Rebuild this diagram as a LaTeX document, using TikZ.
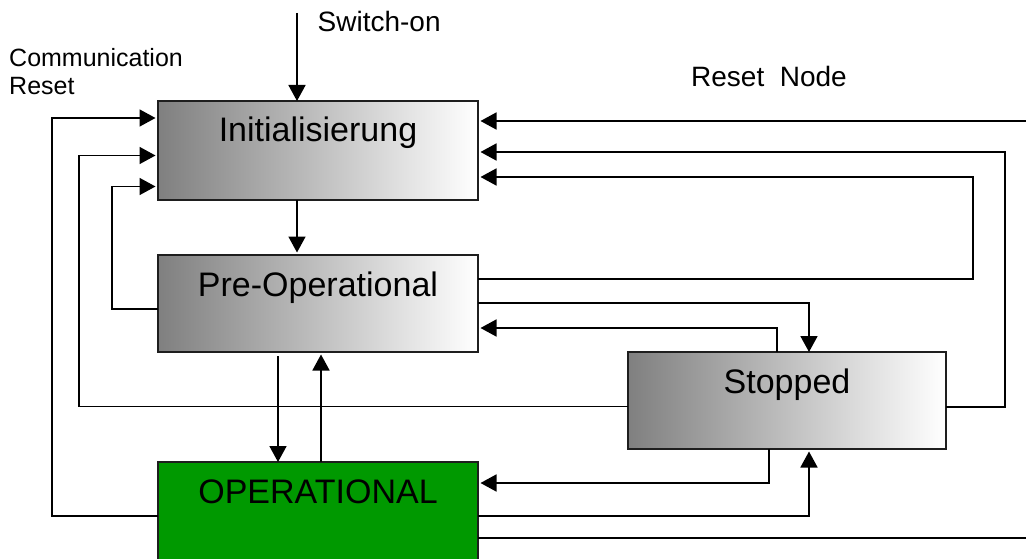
\documentclass[tikz,border=0pt]{standalone}
\usepackage{fontspec}
\setmainfont{Liberation Sans}
\usetikzlibrary{arrows.meta}
\definecolor{opgreen}{RGB}{0,153,0}
\definecolor{boxline}{RGB}{30,30,30}
\begin{document}
\begin{tikzpicture}[x=1pt,y=-1pt,
  conn/.style={line width=1.7pt, draw=black},
  arr/.style={conn, -{Triangle[length=16pt,width=17pt]}},
  gap/.style={shorten >=2.5pt},
  state/.style={rectangle, draw=boxline, line width=1.7pt, minimum width=320pt, inner sep=0pt, outer sep=0pt},
  grey/.style={state, left color=black!50, right color=white},
  stxt/.style={font=\fontsize{34}{40}\selectfont, anchor=base, inner sep=0pt},
  lbl/.style={anchor=base west, inner sep=0pt}
]
\useasboundingbox (0,0) rectangle (1026,559);
\fill[white] (0,0) rectangle (1026,559);

% states
\node[grey, minimum height=99pt] (init) at (318,150.5) {};
\node[grey, minimum height=97pt] (pre) at (318,303.5) {};
\node[grey, minimum width=318pt, minimum height=97pt] (stop) at (787,400.5) {};
\node[state, fill=opgreen, minimum height=100pt] (op) at (318,512) {};

\node[stxt] (tinit) at ([yshift=-41pt]init.north) {Initialisierung};
\node[stxt] (tpre) at ([yshift=-41pt]pre.north) {Pre-Operational};
\node[stxt] (tstop) at ([yshift=-41pt]stop.north) {Stopped};
\node[stxt] (top) at ([yshift=-41pt]op.north) {OPERATIONAL};

% labels
\node[lbl, font=\fontsize{28}{32}\selectfont] (lsw) at (317.5,32) {Switch-on};
\node[lbl, font=\fontsize{25}{28}\selectfont] (lcomm) at (9,67) {Communication};
\node[lbl, font=\fontsize{25}{28}\selectfont] (lres) at (9,95) {Reset};
\node[lbl, font=\fontsize{28}{32}\selectfont] (lrn) at (691,87) {Reset\ \ Node};

% coordinates
\coordinate (son) at (297,13);
\coordinate (ca) at (52,516);   \coordinate (cb) at (52,118);
\coordinate (sa) at (79,406.5); \coordinate (sb) at (79,155.5);
\coordinate (pa) at (112,309);  \coordinate (pb) at (112,186.5);
\coordinate (rn) at (1026,121);
\coordinate (ra) at (1005,407); \coordinate (rb) at (1005,152);
\coordinate (qa) at (973,279);  \coordinate (qb) at (973,177);
\coordinate (pd) at (809,303);
\coordinate (ps) at (777,328);
\coordinate (dd) at (278,356);
\coordinate (du) at (321,462);
\coordinate (sd) at (769,483);
\coordinate (su) at (809,516);
\coordinate (rm) at (1026,538);

% connectors
\draw[arr] (son) -- (son |- init.north);
\draw[arr, gap] (son |- init.south) -- (son |- pre.north);

\draw[arr, gap] (op.west |- ca) -- (ca) -- (cb) -- (init.west |- cb);
\draw[arr, gap] (stop.west |- sa) -- (sa) -- (sb) -- (init.west |- sb);
\draw[arr, gap] (pre.west |- pa) -- (pa) -- (pb) -- (init.west |- pb);

\draw[arr, gap] (rn) -- (init.east |- rn);
\draw[arr, gap] (stop.east |- ra) -- (ra) -- (rb) -- (init.east |- rb);
\draw[arr, gap] (pre.east |- qa) -- (qa) -- (qb) -- (init.east |- qb);

\draw[arr] (pre.east |- pd) -- (pd) -- (pd |- stop.north);
\draw[arr, gap] (ps |- stop.north) -- (ps) -- (pre.east |- ps);

\draw[arr] (dd) -- (dd |- op.north);
\draw[arr, gap] (du) -- (du |- pre.south);

\draw[arr, gap] (sd |- stop.south) -- (sd) -- (op.east |- sd);
\draw[arr, gap] (op.east |- su) -- (su) -- (su |- stop.south);
\draw[conn] (op.east |- rm) -- (rm);
\end{tikzpicture}
\end{document}
